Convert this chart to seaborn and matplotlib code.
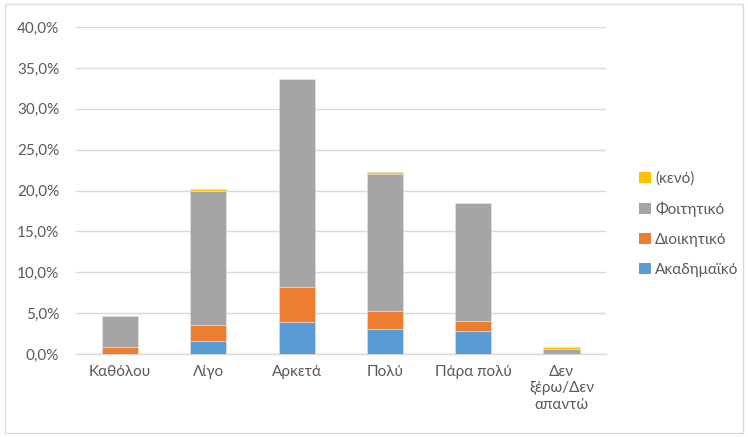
import matplotlib
matplotlib.use("Agg")
import matplotlib.pyplot as plt
import seaborn as sns
import pandas as pd
import numpy as np
from matplotlib.ticker import FuncFormatter, MultipleLocator
from matplotlib.patches import Rectangle, Patch

categories = ["Καθόλου", "Λίγο", "Αρκετά", "Πολύ", "Πάρα πολύ", "Δεν\nξέρω/Δεν\nαπαντώ"]
akadimaiko = [0.0, 1.6, 3.9, 3.0, 2.8, 0.0]
dioikitiko = [0.9, 1.9, 4.3, 2.3, 1.2, 0.0]
foititiko = [3.7, 16.4, 25.4, 16.7, 14.5, 0.6]
keno = [0.0, 0.25, 0.0, 0.3, 0.0, 0.2]

series_names = ["Ακαδημαϊκό", "Διοικητικό", "Φοιτητικό", "(κενό)"]
series_vals = [akadimaiko, dioikitiko, foititiko, keno]
colors = ["#5B9BD5", "#ED7D31", "#A5A5A5", "#FFC000"]

sns.set_theme(style="white")
plt.rcParams['font.family'] = ['Lato', 'DejaVu Sans']
text_color = "#595959"

fig = plt.figure(figsize=(7.48, 4.37), dpi=100)
ax = fig.add_axes([0.1016, 0.19, 0.708, 0.748])

bottom = np.zeros(len(categories))
for name, vals, c in zip(series_names, series_vals, colors):
    df = pd.DataFrame({"cat": categories, "val": vals})
    sns.barplot(data=df, x="cat", y="val", color=c, bottom=bottom, width=0.41,
                ax=ax, saturation=1, linewidth=0.4, edgecolor="#E4E4E4", zorder=3)
    bottom = bottom + np.array(vals)

ax.set_ylim(0, 40)
ax.set_xlim(-0.5, len(categories) - 0.5)
ax.yaxis.set_major_locator(MultipleLocator(5))
ax.yaxis.set_major_formatter(FuncFormatter(lambda v, p: f"{v:.1f}%".replace(".", ",")))
ax.grid(axis="y", color="#D9D9D9", linewidth=1, zorder=0)
ax.set_axisbelow(True)
for s in ["top", "right", "left"]:
    ax.spines[s].set_visible(False)
ax.spines["bottom"].set_color("#D9D9D9")
ax.spines["bottom"].set_linewidth(1)
ax.set_xlabel("")
ax.set_ylabel("")
ax.tick_params(axis="both", length=0, labelsize=11, colors=text_color, pad=8)
ax.tick_params(axis="y", pad=12)

handles = [Patch(facecolor=c, edgecolor="none") for c in colors][::-1]
labels = series_names[::-1]
leg = fig.legend(handles, labels, loc="center left", bbox_to_anchor=(0.836, 0.487),
                 frameon=False, fontsize=11, handlelength=0.75, handleheight=0.75,
                 handletextpad=0.3, labelspacing=1.05, labelcolor=text_color)

fig.patches.append(Rectangle((0.007, 0.01), 0.986, 0.98, transform=fig.transFigure,
                             fill=False, edgecolor="#D9D9D9", linewidth=1))

fig.savefig("out.png", dpi=100)
